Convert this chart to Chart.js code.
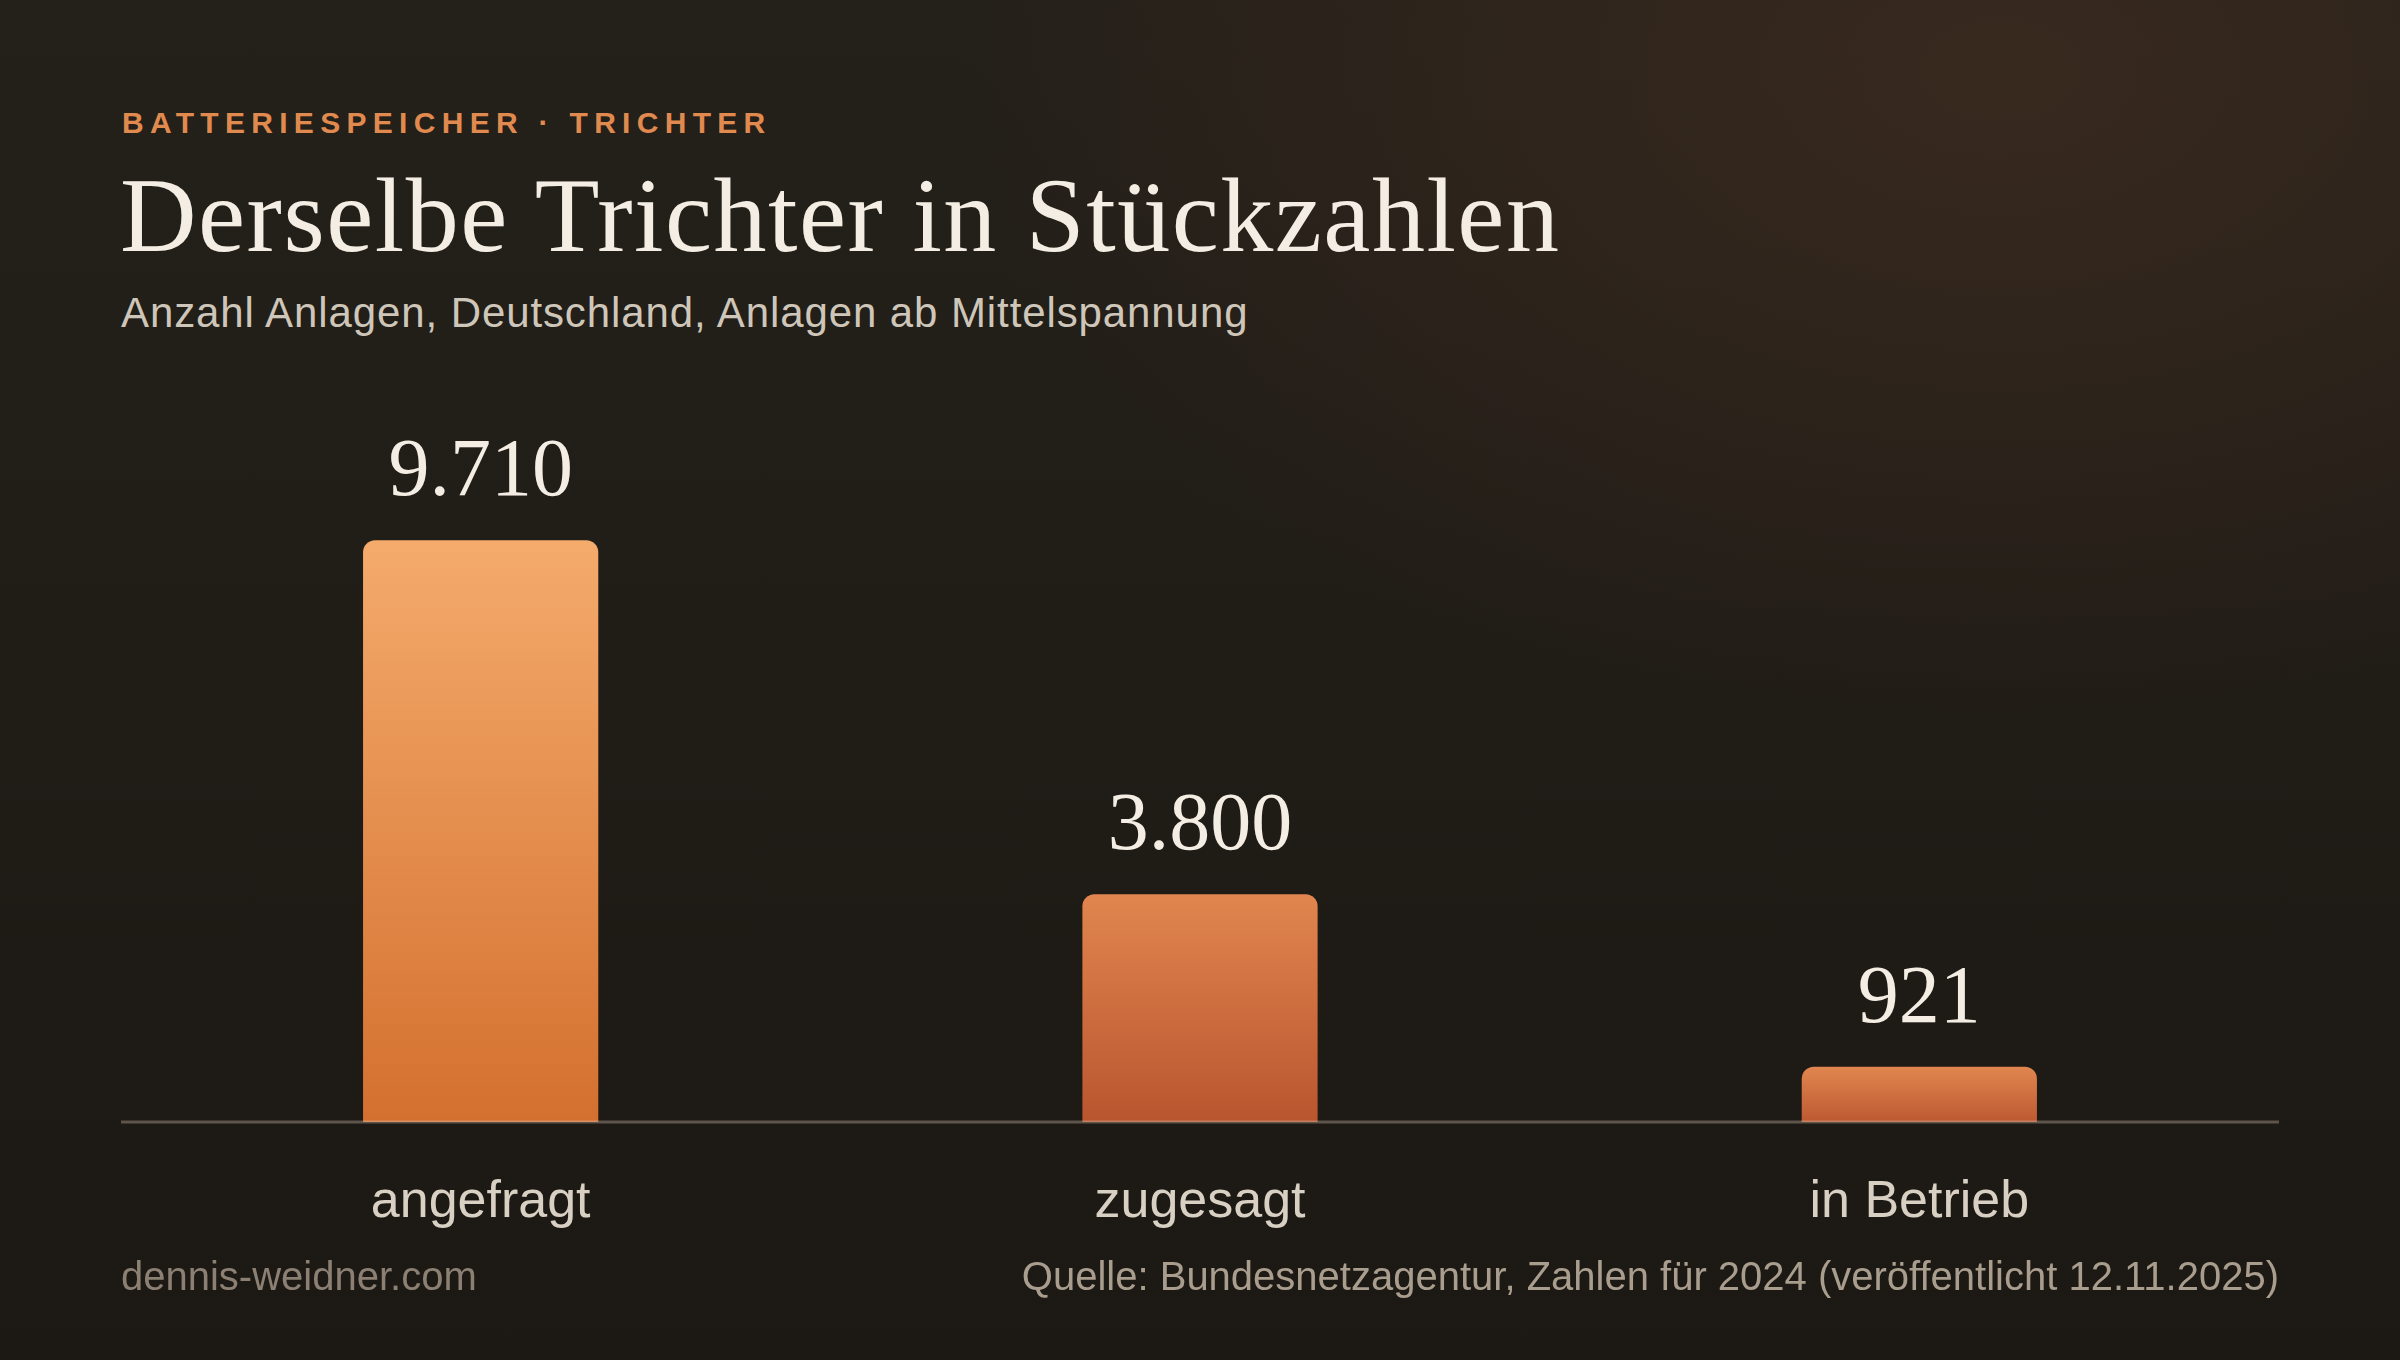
<!DOCTYPE html>
<html lang="de">
<head>
    <meta charset="UTF-8">
    <title>Derselbe Trichter in Stückzahlen</title>
    <script src="https://cdn.jsdelivr.net/npm/chart.js"></script>
    <style>
        html, body {
            margin: 0;
            padding: 0;
        }

        body {
            width: 2400px;
            height: 1360px;
            position: relative;
            overflow: hidden;
            font-family: 'Liberation Sans', Arial, sans-serif;
            background:
                radial-gradient(ellipse 1500px 950px at 2000px 70px, rgba(56, 41, 30, 1) 0%, rgba(56, 41, 30, 0) 70%),
                linear-gradient(180deg, #24201a 0%, #1c1813 100%);
        }

        .txt {
            position: absolute;
            line-height: 1;
            white-space: nowrap;
        }

        .kicker {
            left: 122px;
            top: 108px;
            font-size: 30px;
            font-weight: bold;
            letter-spacing: 6.3px;
            color: #e08a4f;
        }

        .title {
            left: 120px;
            top: 163px;
            font-family: 'Liberation Serif', serif;
            font-size: 106px;
            letter-spacing: 1.5px;
            color: #f3ede4;
        }

        .subtitle {
            left: 121px;
            top: 292px;
            font-size: 42px;
            letter-spacing: 0.9px;
            color: #cfc6ba;
        }

        .footer-left {
            left: 121px;
            top: 1256px;
            font-size: 40px;
            color: #8b8073;
        }

        .footer-right {
            right: 121px;
            top: 1256px;
            font-size: 40px;
            color: #a99d8e;
        }

        #chartBox {
            position: absolute;
            left: 0;
            top: 0;
            width: 2400px;
            height: 1360px;
        }
    </style>
</head>
<body>
    <div class="txt kicker">BATTERIESPEICHER · TRICHTER</div>
    <div class="txt title">Derselbe Trichter in Stückzahlen</div>
    <div class="txt subtitle">Anzahl Anlagen, Deutschland, Anlagen ab Mittelspannung</div>

    <div id="chartBox"><canvas id="funnelChart"></canvas></div>

    <div class="txt footer-left">dennis-weidner.com</div>
    <div class="txt footer-right">Quelle: Bundesnetzagentur, Zahlen für 2024 (veröffentlicht 12.11.2025)</div>

    <script>
        // Werte aus der Grafik
        const stages = ['angefragt', 'zugesagt', 'in Betrieb'];
        const anlagen = [9710, 3800, 921];
        const valueLabels = ['9.710', '3.800', '921'];

        // Farbverlauf je Balken (oben -> unten)
        const topColors = ['#f4ab6c', '#e1864f', '#e1864f'];
        const bottomColors = ['#d4702f', '#b9552f', '#bd5932'];

        function barGradient(context) {
            const chart = context.chart;
            const area = chart.chartArea;
            if (!area) return topColors[0];
            const i = context.dataIndex;
            const yTop = chart.scales.y.getPixelForValue(anlagen[i]);
            const g = chart.ctx.createLinearGradient(0, yTop, 0, area.bottom);
            g.addColorStop(0, topColors[i]);
            g.addColorStop(1, bottomColors[i]);
            return g;
        }

        // Zahlen über den Balken + Grundlinie über den Balken
        const overlayPlugin = {
            id: 'overlay',
            afterDatasetsDraw(chart) {
                const ctx = chart.ctx;
                const area = chart.chartArea;
                const meta = chart.getDatasetMeta(0);

                ctx.save();
                ctx.font = '82px "Liberation Serif", serif';
                ctx.fillStyle = '#f3ede4';
                ctx.textAlign = 'center';
                ctx.textBaseline = 'alphabetic';
                meta.data.forEach((bar, i) => {
                    ctx.fillText(valueLabels[i], bar.x, bar.y - 45);
                });

                ctx.strokeStyle = 'rgba(225, 210, 190, 0.33)';
                ctx.lineWidth = 3;
                ctx.beginPath();
                ctx.moveTo(area.left, area.bottom);
                ctx.lineTo(area.right, area.bottom);
                ctx.stroke();
                ctx.restore();
            }
        };

        const ctx = document.getElementById('funnelChart').getContext('2d');

        const chart = new Chart(ctx, {
            type: 'bar',
            data: {
                labels: stages,
                datasets: [{
                    data: anlagen,
                    backgroundColor: barGradient,
                    borderRadius: 12,
                    borderSkipped: 'start',
                    barPercentage: 1,
                    categoryPercentage: 0.327
                }]
            },
            options: {
                responsive: true,
                maintainAspectRatio: false,
                animation: false,
                events: [],
                layout: {
                    padding: { top: 403, left: 121, right: 121, bottom: 98 }
                },
                plugins: {
                    legend: { display: false },
                    tooltip: { enabled: false }
                },
                scales: {
                    x: {
                        grid: { display: false, drawTicks: false },
                        border: { display: false },
                        ticks: {
                            color: '#d9d0c4',
                            padding: 49,
                            font: { family: "'Liberation Sans', Arial, sans-serif", size: 52 }
                        },
                        afterFit(scale) {
                            scale.height = 140;
                        }
                    },
                    y: {
                        display: false,
                        min: 0,
                        max: 12000
                    }
                }
            },
            plugins: [overlayPlugin]
        });
    </script>
</body>
</html>
